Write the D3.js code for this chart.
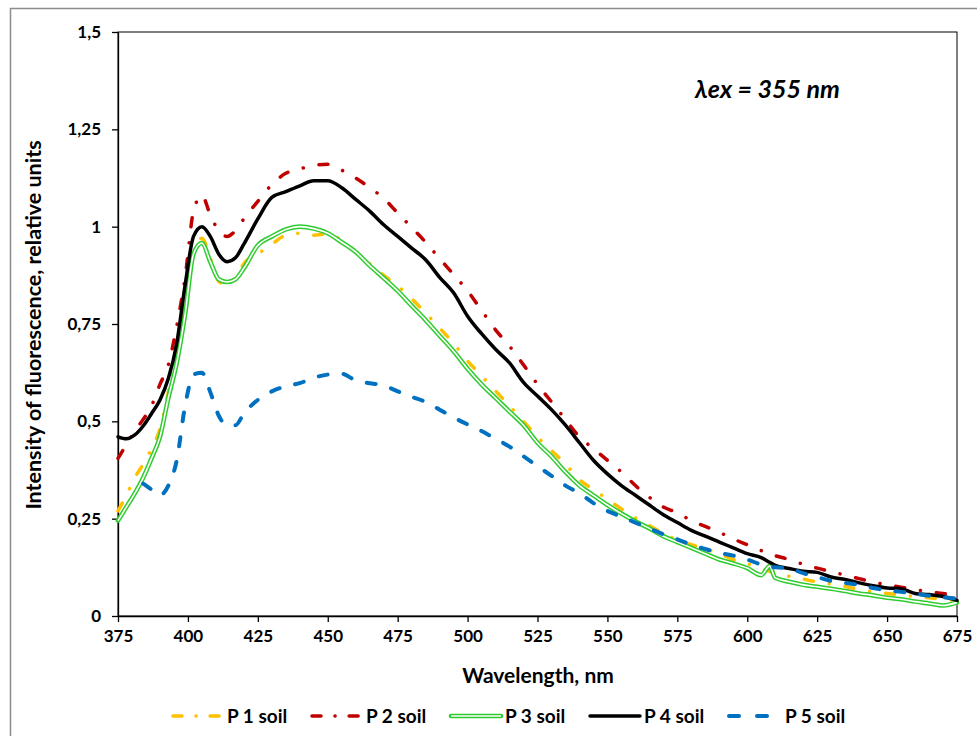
<!DOCTYPE html>
<html>
<head>
<meta charset="utf-8">
<style>
  body { margin: 0; background: #fff; }
  svg text { font-family: Lato, "Open Sans", sans-serif; font-weight: bold; fill: #000; }
</style>
</head>
<body>
<svg width="977" height="736"></svg>
<script src="https://d3js.org/d3.v7.min.js"></script>
<script>
// wavelengths, nm
const wavelengths = [375,378,381,384,387,390,393,396,399,402,405,408,411,414,417,420,425,430,435,440,445,450,455,460,465,470,475,480,485,490,495,500,505,510,515,520,525,530,535,540,545,550,555,560,565,570,575,580,585,590,595,600,605,608,610,615,620,625,630,635,640,645,650,655,660,665,670,675];

const p1 = [0.27,0.31,0.355,0.39,0.43,0.48,0.575,0.68,0.79,0.93,0.97,0.92,0.86,0.85,0.865,0.905,0.93,0.955,0.978,0.983,0.978,0.982,0.965,0.935,0.905,0.875,0.848,0.815,0.778,0.74,0.70,0.655,0.617,0.578,0.54,0.50,0.46,0.425,0.39,0.35,0.325,0.30,0.275,0.252,0.232,0.212,0.195,0.183,0.172,0.16,0.145,0.135,0.12,0.115,0.11,0.102,0.095,0.087,0.082,0.076,0.068,0.062,0.058,0.054,0.05,0.047,0.043,0.04];
const p2 = [0.405,0.44,0.475,0.505,0.54,0.595,0.645,0.745,0.87,1.04,1.08,1.03,0.99,0.975,0.99,1.02,1.065,1.108,1.137,1.148,1.158,1.16,1.145,1.125,1.10,1.073,1.035,0.998,0.96,0.918,0.877,0.835,0.785,0.735,0.693,0.645,0.595,0.55,0.505,0.46,0.43,0.40,0.37,0.335,0.305,0.28,0.265,0.245,0.23,0.215,0.198,0.183,0.168,0.16,0.155,0.145,0.133,0.123,0.114,0.105,0.096,0.087,0.08,0.074,0.068,0.062,0.058,0.05];
const p3 = [0.245,0.28,0.315,0.355,0.405,0.46,0.56,0.65,0.775,0.93,0.958,0.91,0.865,0.858,0.865,0.893,0.952,0.975,0.993,1.0,0.995,0.983,0.96,0.935,0.90,0.868,0.835,0.797,0.76,0.72,0.68,0.635,0.595,0.56,0.525,0.49,0.445,0.41,0.37,0.335,0.31,0.285,0.263,0.243,0.225,0.205,0.19,0.175,0.16,0.145,0.135,0.123,0.105,0.128,0.098,0.088,0.08,0.075,0.07,0.064,0.058,0.053,0.047,0.043,0.037,0.032,0.027,0.035];
const p4 = [0.46,0.455,0.465,0.488,0.52,0.555,0.61,0.70,0.85,0.975,1.0,0.975,0.93,0.91,0.92,0.955,1.02,1.075,1.09,1.105,1.118,1.118,1.10,1.07,1.04,1.005,0.975,0.945,0.915,0.87,0.83,0.77,0.725,0.685,0.65,0.60,0.565,0.53,0.49,0.445,0.40,0.365,0.335,0.31,0.285,0.26,0.24,0.22,0.205,0.19,0.175,0.16,0.15,0.138,0.13,0.122,0.115,0.112,0.10,0.094,0.085,0.078,0.072,0.07,0.058,0.055,0.05,0.04];
const p5 = [null,null,null,0.34,0.325,0.31,0.335,0.40,0.54,0.62,0.625,0.575,0.515,0.49,0.49,0.52,0.555,0.577,0.59,0.598,0.612,0.62,0.622,0.605,0.598,0.592,0.577,0.563,0.55,0.53,0.51,0.492,0.475,0.455,0.435,0.41,0.385,0.36,0.335,0.315,0.29,0.27,0.255,0.24,0.225,0.21,0.197,0.183,0.172,0.162,0.155,0.145,0.132,0.126,0.125,0.122,0.11,0.10,0.09,0.085,0.08,0.072,0.066,0.062,0.057,0.052,0.048,0.045];

const seriesNames = ["P 1 soil","P 2 soil","P 3 soil","P 4 soil","P 5 soil"];
const xTicks = [375,400,425,450,475,500,525,550,575,600,625,650,675];
const yTicks = [0,0.25,0.5,0.75,1,1.25,1.5];

const series = [
  {name: seriesNames[0], values: p1, color: "#FFC000", dash: "9,16,0.1,16", legendDash: "9,14,0.1,14", width: 3.5},
  {name: seriesNames[1], values: p2, color: "#C00000", dash: "9,16,0.1,16", legendDash: "9,14,0.1,14", width: 3.5},
  {name: seriesNames[2], values: p3, color: "#2ECC2E", dash: null, width: 4.6, double: true},
  {name: seriesNames[3], values: p4, color: "#000000", dash: null, width: 3.5},
  {name: seriesNames[4], values: p5, color: "#0070C0", dash: "9,16", legendDash: "10,18", width: 4}
];

const svg = d3.select("svg");

// outer chart frame
svg.append("rect")
  .attr("x", 10.5).attr("y", 8.5)
  .attr("width", 1000).attr("height", 800)
  .attr("fill", "none").attr("stroke", "#8c8c8c").attr("stroke-width", 1.5);

const x = d3.scaleLinear().domain([375, 675]).range([118, 957]);
const y = d3.scaleLinear().domain([0, 1.5]).range([616, 32]);

// plot frame
svg.append("rect")
  .attr("x", 118).attr("y", 32)
  .attr("width", 839).attr("height", 584)
  .attr("fill", "none").attr("stroke", "#000").attr("stroke-width", 1);

const fmt = d => String(d).replace(".", ",");

const xAxis = svg.append("g")
  .attr("transform", "translate(0,616)")
  .call(d3.axisBottom(x).tickValues(xTicks).tickSize(6).tickSizeOuter(0).tickFormat(d => d));
xAxis.selectAll("text").attr("font-size", 17).attr("y", 14).attr("dy", "0.71em");

const yAxis = svg.append("g")
  .attr("transform", "translate(118,0)")
  .call(d3.axisLeft(y).tickValues(yTicks).tickSize(6).tickSizeOuter(0).tickFormat(fmt));
yAxis.selectAll("text").attr("font-size", 17).attr("x", -17);

svg.selectAll(".domain, .tick line").attr("stroke", "#000").attr("stroke-width", 1.3);

const line = d3.line()
  .defined(d => d[1] != null)
  .x(d => x(d[0]))
  .y(d => y(d[1]))
  .curve(d3.curveMonotoneX);

const plot = svg.append("g");
series.forEach(s => {
  const pts = wavelengths.map((w, i) => [w, s.values[i]]);
  const p = plot.append("path")
    .datum(pts)
    .attr("d", line)
    .attr("fill", "none")
    .attr("stroke", s.color)
    .attr("stroke-width", s.width)
    .attr("stroke-linecap", "round")
    .attr("stroke-linejoin", "round");
  if (s.dash) p.attr("stroke-dasharray", s.dash);
  if (s.double) {
    plot.append("path")
      .datum(pts)
      .attr("d", line)
      .attr("fill", "none")
      .attr("stroke", "#fff")
      .attr("stroke-width", 1.6);
  }
});

// axis titles
svg.append("text")
  .attr("x", 538).attr("y", 683)
  .attr("text-anchor", "middle").attr("font-size", 21)
  .text("Wavelength, nm");

svg.append("text")
  .attr("transform", "translate(41,325) rotate(-90)")
  .attr("text-anchor", "middle").attr("font-size", 21.5)
  .text("Intensity of fluorescence, relative units");

// annotation
svg.append("text")
  .attr("x", 695).attr("y", 98)
  .attr("font-size", 25).attr("font-style", "italic")
  .text("λex = 355 nm");

// legend
const legend = svg.append("g");
series.forEach((s, i) => {
  const lx = 171 + i * 139;
  const g = legend.append("g").attr("transform", `translate(${lx},716)`);
  g.append("line")
    .attr("x1", 2).attr("x2", 52).attr("y1", 0).attr("y2", 0)
    .attr("stroke", s.color).attr("stroke-width", s.width)
    .attr("stroke-linecap", "round")
    .attr("stroke-dasharray", s.legendDash || null);
  if (s.double) {
    g.append("line").attr("x1", 2).attr("x2", 52).attr("y1", 0).attr("y2", 0)
      .attr("stroke", "#fff").attr("stroke-width", 1.6);
  }
  g.append("text")
    .attr("x", i === 4 ? 58 : 56).attr("y", 7)
    .attr("font-size", 19)
    .text(s.name);
});
</script>
</body>
</html>
